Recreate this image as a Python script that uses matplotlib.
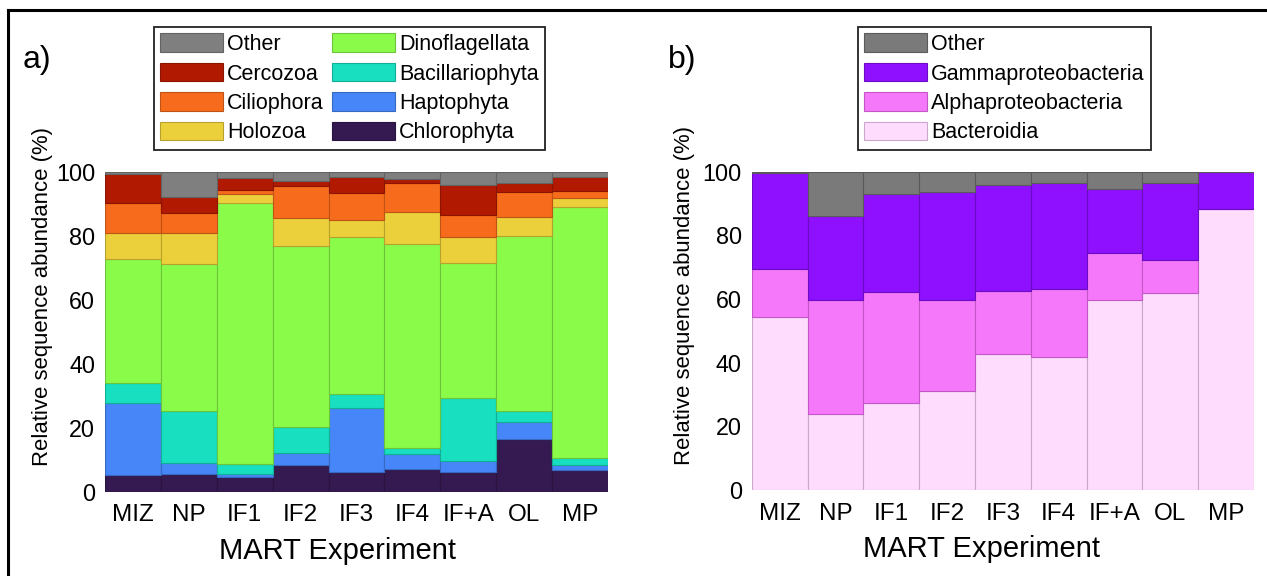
import numpy as np
import matplotlib
matplotlib.use("Agg")
import matplotlib.pyplot as plt
from matplotlib.colors import to_rgb
from matplotlib.lines import Line2D
from matplotlib.patches import Patch

plt.rcParams["font.family"] = ["Liberation Sans", "DejaVu Sans"]

experiments = ["MIZ", "NP", "IF1", "IF2", "IF3", "IF4", "IF+A", "OL", "MP"]

# panel a: eukaryotes, % per group (bottom to top)
chlorophyta = [5.2, 5.5, 4.7, 8.4, 6.3, 7.0, 6.3, 16.4, 6.8]
haptophyta = [22.4, 3.4, 0.8, 3.6, 19.8, 4.8, 3.4, 5.5, 1.6]
bacillariophyta = [6.3, 16.4, 3.2, 8.3, 4.4, 1.8, 19.5, 3.4, 2.2]
dinoflagellata = [38.9, 45.9, 81.5, 56.7, 49.3, 63.9, 42.4, 54.7, 78.6]
holozoa = [8.0, 9.6, 2.8, 8.5, 5.2, 9.9, 8.0, 5.8, 2.8]
ciliophora = [9.4, 6.5, 1.4, 10.1, 8.5, 9.1, 7.0, 8.0, 2.1]
cercozoa = [9.1, 5.0, 3.8, 1.6, 4.8, 1.3, 9.3, 2.9, 4.2]
other_euk = [0.7, 7.7, 1.8, 2.8, 1.7, 2.2, 4.1, 3.3, 1.7]

# panel b: bacteria, % per class (bottom to top)
bacteroidia = [54.5, 23.9, 27.4, 31.2, 42.6, 41.9, 59.7, 61.8, 88.2]
alphaproteo = [14.9, 35.8, 34.9, 28.5, 19.9, 21.1, 14.7, 10.5, 0.1]
gammaproteo = [30.1, 26.4, 30.7, 33.8, 33.3, 33.3, 20.1, 24.3, 11.7]
other_bac = [0.5, 13.9, 7.0, 6.5, 4.2, 3.7, 5.5, 3.4, 0.0]

euk_groups = [
    ("Chlorophyta", chlorophyta, "#341a51"),
    ("Haptophyta", haptophyta, "#4686f8"),
    ("Bacillariophyta", bacillariophyta, "#17dfc0"),
    ("Dinoflagellata", dinoflagellata, "#8bfb4a"),
    ("Holozoa", holozoa, "#ebd03b"),
    ("Ciliophora", ciliophora, "#f66c1c"),
    ("Cercozoa", cercozoa, "#b11a01"),
    ("Other", other_euk, "#7f7f7f"),
]
bac_groups = [
    ("Bacteroidia", bacteroidia, "#fddcfd", "#cba8cb"),
    ("Alphaproteobacteria", alphaproteo, "#f678fa", "#c457c8"),
    ("Gammaproteobacteria", gammaproteo, "#8e10ff", "#6a0cbf"),
    ("Other", other_bac, "#7a7a7a", "#5a5a5a"),
]


def darker(c, f=0.78):
    return tuple(v * f for v in to_rgb(c))


W, H = 1267, 576
fig = plt.figure(figsize=(W / 100, H / 100), dpi=100)

# figure border (top + left)
fig.add_artist(Line2D([8 / W, 8 / W], [0, 1 - 10 / H], color="black", lw=2.2,
                      transform=fig.transFigure))
fig.add_artist(Line2D([8 / W, 1], [1 - 10 / H, 1 - 10 / H], color="black", lw=2.2,
                      transform=fig.transFigure))

ax_a = fig.add_axes([105 / W, 1 - 491.7 / H, 503 / W, 319.7 / H])
ax_b = fig.add_axes([751.7 / W, 1 - 490 / H, 502.3 / W, 318.3 / H])

x = np.arange(1, len(experiments) + 1)


def style_axis(ax, xlab_x, ylab_x):
    ax.set_xlim(0.5, len(experiments) + 0.5)
    ax.set_ylim(0, 100)
    ax.set_yticks([0, 20, 40, 60, 80, 100])
    ax.set_xticks(x)
    ax.set_xticklabels(experiments)
    ax.tick_params(axis="y", length=0, pad=7, labelsize=16.8)
    ax.tick_params(axis="x", length=0, pad=9, labelsize=17.5)
    for s in ax.spines.values():
        s.set_visible(False)
    ax.set_xlabel("MART Experiment", fontsize=21)
    ax.xaxis.set_label_coords(xlab_x, -0.142)
    ax.set_ylabel("Relative sequence abundance (%)", fontsize=15.9)
    ax.yaxis.set_label_coords(ylab_x, 0.612)


# panel a
bottom = np.zeros(len(experiments))
handles_a = {}
for name, vals, col in euk_groups:
    vals = np.array(vals)
    ax_a.bar(x, vals, width=1.0, bottom=bottom, color=col,
             edgecolor=darker(col), linewidth=0.8)
    handles_a[name] = Patch(facecolor=col, edgecolor=darker(col), linewidth=0.8)
    bottom += vals
style_axis(ax_a, 0.463, -0.103)

# panel b
bottom = np.zeros(len(experiments))
handles_b = {}
for name, vals, col, ecol in bac_groups:
    vals = np.array(vals)
    ax_b.bar(x, vals, width=1.0, bottom=bottom, color=col,
             edgecolor=ecol, linewidth=0.8)
    handles_b[name] = Patch(facecolor=col, edgecolor=ecol, linewidth=0.8)
    bottom += vals
style_axis(ax_b, 0.457, -0.112)

leg_kw = dict(loc="upper left", fontsize=15.5, frameon=True, fancybox=False,
              edgecolor="#222222", framealpha=1, borderaxespad=0,
              borderpad=0.3, handlelength=2.9, handleheight=0.95,
              handletextpad=0.2, labelspacing=0.36, columnspacing=0.4)

order_a = ["Other", "Cercozoa", "Ciliophora", "Holozoa",
           "Dinoflagellata", "Bacillariophyta", "Haptophyta", "Chlorophyta"]
leg_a = fig.legend([handles_a[n] for n in order_a], order_a, ncol=2,
                   bbox_to_anchor=(154 / W, 1 - 27 / H), **leg_kw)
leg_a.get_frame().set_linewidth(1.3)

order_b = ["Other", "Gammaproteobacteria", "Alphaproteobacteria", "Bacteroidia"]
leg_b = fig.legend([handles_b[n] for n in order_b], order_b, ncol=1,
                   bbox_to_anchor=(858 / W, 1 - 27 / H), **leg_kw)
leg_b.get_frame().set_linewidth(1.3)

fig.text(23 / W, 1 - 60 / H, "a)", fontsize=23, va="center", ha="left")
fig.text(668 / W, 1 - 60 / H, "b)", fontsize=23, va="center", ha="left")

fig.savefig("out.png", dpi=100)
